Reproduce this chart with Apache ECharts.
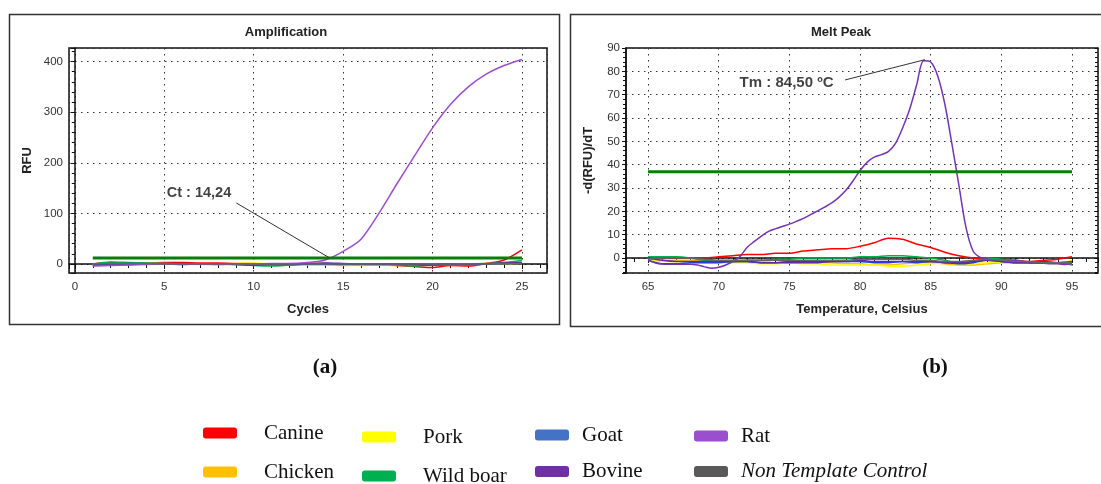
<!DOCTYPE html>
<html>
<head>
<meta charset="utf-8">
<script src="https://cdn.jsdelivr.net/npm/echarts@6/dist/echarts.min.js"></script>
<style>
  html, body { margin: 0; padding: 0; background: #fff; }
  #chart { width: 1101px; height: 484px; }
</style>
</head>
<body>
<div id="chart"></div>
<script>
// amplification: RFU per cycle
const cycles = [1, 2, 3, 4, 5, 6, 7, 8, 9, 10, 11, 12, 13, 14, 15, 16, 17, 18, 19, 20, 21, 22, 23, 24, 25];
const ampCanine = [0, 3, 2, 2, 3, 3, 2, 2, 1, 1, -1, -2, 0, 1, 0, -1, -1, -3, -5, -7, -3, -4, 1, 8, 28];
const ampChicken = [-2, -1, -1, 0, 0, 0, -1, -1, -1, 0, -1, -2, -2, -2, -3, -2, -2, -3, -2, -2, -1, -1, 0, 1, 1];
const ampPork = [-1, 0, 0, 1, 1, 0, 0, 0, 1, 2, 0, 0, 1, 1, -1, -3, -2, -2, -1, -1, -2, 0, 1, 1, 2];
const ampGoat = [-1, 0, 1, 0, 0, -1, 0, 0, -1, -2, -1, -1, 0, 0, -1, -1, -1, 0, -1, -2, -1, -1, 0, 1, 2];
const ampWildBoar = [0, 4, 3, 2, 1, 0, 0, 0, -1, -3, -4, -2, 0, 1, 0, -1, -1, -2, -4, -2, -2, -2, 0, 3, 7];
const ampBovine = [-3, -2, -1, 0, 1, 1, 0, 0, 0, -1, -1, 0, 1, 2, 1, 0, 0, -1, -1, -1, -1, 0, 1, 2, 3];
const ampNtc = [0, 1, 1, 1, 0, 0, 0, 0, 0, 0, 0, 0, 0, 0, 0, 0, 0, 0, 0, 0, 0, 0, 0, 1, 1];
const ampRat = [-4, -3, -2, -1, 0, 0, 0, -1, 0, 0, 1, 1, 3, 8, 25, 49, 100, 158, 214, 269, 315, 350, 375, 392, 404];
const ampThreshold = [[1, 12], [25, 12]];
const ctText = 'Ct : 14,24';
const ctLabelAt = [6.94, 140];
const ctPointer = [[9.03, 120.5], [14.24, 12]];

// melt peak: -d(RFU)/dT per temperature
const meltTemps = [65, 66, 67, 68, 69, 70, 71, 72, 73, 74, 75, 76, 77, 78, 79, 80, 81, 82, 83, 84, 85, 86, 87, 88, 89, 90, 91, 92, 93, 94, 95];
const meltCanine = [0, 0, 0, 0, 0, 0.5, 1, 1.5, 1.5, 2, 2, 3, 3.5, 4, 4, 5, 6.5, 8.5, 8, 6, 4.5, 2.5, 1, 0, -0.5, -1, -1, -1.5, -1, -0.5, 0.5];
const meltChicken = [-0.5, -1, -1, -1, -1, -1.5, -1.5, -1.5, -1.5, -2, -2, -2, -2, -2, -2.5, -2.5, -3, -3, -2.5, -2, -2, -2.5, -3, -3, -2.5, -2, -2, -2, -2, -2, -1.5];
const meltPork = [-1, -1.5, -1.5, -1.5, -2, -2, -2, -2, -2.5, -2.5, -2, -2.5, -2.5, -3, -3, -3, -3, -3.5, -3.5, -3, -2.5, -2, -2.5, -2.5, -2, -1.5, -2, -2, -2, -2.5, -1];
const meltGoat = [-1, -2.5, -2.5, -2, -2, -2, -1.5, -1.5, -2, -2, -1.5, -1.5, -1.5, -1.5, -1.5, -1.5, -2, -2, -1.5, -2, -1.5, -2, -2.5, -2, -1, -1.5, -2, -2, -1.5, -2, -2];
const meltWildBoar = [0.5, 0.5, 0.5, 0, -1, -1.5, -1.5, -1, -1, -0.5, -0.5, 0, 0, 0, 0, 0.5, 0.5, 1, 1, 0.5, 0, -1, -2, -1.5, 0, -0.5, -1, -2, -2, -2, -3];
const meltBovine = [0, -1, -1.5, -1.5, -1.5, -1.5, -1.5, -1.5, -2, -2, -2, -2, -2, -1.5, -1.5, -1, -1.5, -1.5, -1.5, -1.5, -1.5, -2, -2, -1.5, -1, -1.5, -2, -2, -2, -2, -1.5];
const meltNtc = [-0.5, 0, 0, 0, -0.5, -1, -1, -1, -1, -1, -1, -1, -1, -1, -1, -0.5, -0.5, -0.5, -0.5, -1, -1, -1.5, -1.5, -1, -0.5, -1, -1.5, -1.5, -2, -2, -2];
const ratTemps = [65, 65.5, 66, 66.5, 67, 67.5, 68, 68.5, 69, 69.5, 70, 70.5, 71, 71.5, 72, 72.5, 73, 73.5, 74, 74.5, 75, 75.5, 76, 76.5, 77, 77.5, 78, 78.5, 79, 79.5, 80,
  80.5, 81, 81.5, 82, 82.5, 83, 83.5, 84, 84.5, 85, 85.5, 86, 86.5, 87, 87.5, 88, 88.5, 89, 89.5, 90, 90.5, 91, 91.5, 92, 92.5, 93, 93.5, 94, 94.5, 95];
const meltRat = [-1, -2, -2.6, -2.7, -2.7, -2.7, -2.7, -3, -3.8, -4.4, -4, -3, -1.5, 0.6, 4.5, 7, 9.3, 11.3, 12.5, 13.5, 14.5, 15.7, 17, 18.6, 20.2, 21.8, 23.6, 26, 29, 33, 37.5,
  41, 43.2, 44.3, 45.6, 49, 55.5, 63.5, 74, 84.5, 84, 78, 66, 49, 31, 13, 3, 0.3, -0.5, -0.8, -1, -1, -1.2, -1.5, -2, -2.2, -2.3, -2.5, -2.5, -2.8, -2.5];
const meltThreshold = [[65, 37], [95, 37]];
const tmText = 'Tm : 84,50 ºC';
const tmLabelAt = [74.8, 75];
const tmPointer = [[78.94, 76.3], [84.6, 85]];

const species = ['Canine', 'Chicken', 'Pork', 'Wild boar', 'Goat', 'Bovine', 'Rat', 'Non Template Control'];
const colors = {
  'Canine': '#ff0000', 'Chicken': '#ffc000', 'Pork': '#ffff00', 'Wild boar': '#00b050',
  'Goat': '#4472c4', 'Bovine': '#7030a0', 'Rat': '#9a4fcf', 'Non Template Control': '#595959'
};
const ampData = {
  'Canine': ampCanine, 'Chicken': ampChicken, 'Pork': ampPork, 'Wild boar': ampWildBoar,
  'Goat': ampGoat, 'Bovine': ampBovine, 'Rat': ampRat, 'Non Template Control': ampNtc
};
const meltData = {
  'Canine': meltCanine, 'Chicken': meltChicken, 'Pork': meltPork, 'Wild boar': meltWildBoar,
  'Goat': meltGoat, 'Bovine': meltBovine, 'Non Template Control': meltNtc
};
// line colours on the instrument plots differ a bit from the legend swatches
const lineColors = { 'Goat': '#1f3fe0', 'Bovine': '#5a2aa8', 'Non Template Control': '#666' };

const chart = echarts.init(document.getElementById('chart'));
const axisFont = { fontFamily: 'Liberation Sans', fontSize: 11.5, color: '#333' };
const nameFont = { fontFamily: 'Liberation Sans', fontSize: 13, fontWeight: 'bold', color: '#222' };
const dotted = { color: '#333', width: 1, type: [1.5, 4.5] };
const tickLine = { color: '#111' };

function xAxisOf(grid, min, max, split, minor, name) {
  return {
    type: 'value', gridIndex: grid, min: min, max: max, splitNumber: split,
    name: name, nameLocation: 'middle', nameGap: 30, nameTextStyle: nameFont,
    axisLine: { lineStyle: { color: '#111', width: 1.5 } },
    axisTick: { length: 5, lineStyle: tickLine },
    minorTick: { show: true, splitNumber: minor, length: 4, lineStyle: tickLine },
    axisLabel: { ...axisFont, margin: 8, formatter: v => (Math.abs(v - Math.round(v)) < 1e-6 && Math.round(v) % 5 === 0 ? v : '') },
    splitLine: { show: true, lineStyle: dotted }
  };
}
function yAxisOf(grid, min, max, split, minor, name, gap, step) {
  return {
    type: 'value', gridIndex: grid, min: min, max: max, splitNumber: split,
    name: name, nameLocation: 'middle', nameGap: gap, nameTextStyle: nameFont,
    axisLine: { show: true, lineStyle: { color: '#111', width: 1.5 } },
    axisTick: { show: true, length: 4, lineStyle: tickLine },
    minorTick: { show: true, splitNumber: minor, length: 3, lineStyle: tickLine },
    axisLabel: { ...axisFont, margin: 6, formatter: v => (Math.abs(v - Math.round(v)) < 1e-6 && Math.round(v) % step === 0 ? v : '') },
    splitLine: { show: true, lineStyle: dotted }
  };
}
// tick marks on the top / right edges of each frame
function mirrorAxis(grid, pos, min, max, split, minor) {
  return {
    type: 'value', gridIndex: grid, position: pos, min: min, max: max, splitNumber: split,
    axisLine: { show: false }, axisLabel: { show: false }, splitLine: { show: false },
    axisTick: { show: true, inside: true, length: 3, lineStyle: tickLine },
    minorTick: { show: true, splitNumber: minor, length: 3, lineStyle: tickLine }
  };
}

const series = [];
species.forEach(s => {
  series.push({
    name: s, type: 'line', xAxisIndex: 0, yAxisIndex: 0, symbol: 'none', smooth: 0.3,
    itemStyle: { color: colors[s] },
    lineStyle: { width: 1.5, color: lineColors[s] || colors[s] },
    data: cycles.map((c, i) => [c, ampData[s][i]])
  });
});
species.forEach(s => {
  const d = s === 'Rat' ? ratTemps.map((t, i) => [t, meltRat[i]]) : meltTemps.map((t, i) => [t, meltData[s][i]]);
  series.push({
    name: s, type: 'line', xAxisIndex: 1, yAxisIndex: 1, symbol: 'none', smooth: 0.3,
    itemStyle: { color: colors[s] },
    lineStyle: { width: 1.5, color: s === 'Rat' ? '#7434b4' : (lineColors[s] || colors[s]) },
    data: d
  });
});
series.push(
  { name: 'ampThreshold', type: 'line', xAxisIndex: 0, yAxisIndex: 0, symbol: 'none', z: 3,
    lineStyle: { color: '#0b7d0b', width: 3 }, data: ampThreshold },
  { name: 'meltThreshold', type: 'line', xAxisIndex: 1, yAxisIndex: 1, symbol: 'none', z: 3,
    lineStyle: { color: '#0b7d0b', width: 3 }, data: meltThreshold },
  { name: 'ctPointer', type: 'line', xAxisIndex: 0, yAxisIndex: 0, symbol: 'none', z: 4,
    lineStyle: { color: '#333', width: 1 }, data: ctPointer },
  { name: 'tmPointer', type: 'line', xAxisIndex: 1, yAxisIndex: 1, symbol: 'none', z: 4,
    lineStyle: { color: '#333', width: 1 }, data: tmPointer },
  { name: 'ctLabel', type: 'scatter', xAxisIndex: 0, yAxisIndex: 0, symbolSize: 0, z: 5,
    label: { show: true, position: 'inside', formatter: ctText, fontFamily: 'Liberation Sans', fontWeight: 'bold', fontSize: 14.5, color: '#111' },
    data: [ctLabelAt] },
  { name: 'tmLabel', type: 'scatter', xAxisIndex: 1, yAxisIndex: 1, symbolSize: 0, z: 5,
    label: { show: true, position: 'inside', formatter: tmText, fontFamily: 'Liberation Sans', fontWeight: 'bold', fontSize: 15, color: '#111' },
    data: [tmLabelAt] }
);

// one legend per entry so the two-row grid lines up like the figure
function legendOf(name, left, centerY, pad) {
  return {
    left: left, top: centerY - 12, orient: 'horizontal', padding: 0,
    itemWidth: 34, itemHeight: 11, icon: 'roundRect', selectedMode: false,
    itemStyle: { borderWidth: 0 },
    data: [name],
    formatter: n => (n === 'Non Template Control' ? '{i|' + n + '}' : n),
    textStyle: {
      fontFamily: 'Liberation Serif', fontSize: 21, color: '#111', lineHeight: 24, padding: [0, 0, 0, pad],
      rich: { i: { fontFamily: 'Liberation Serif', fontStyle: 'italic', fontSize: 21, color: '#111', lineHeight: 24 } }
    }
  };
}

chart.setOption({
  animation: false,
  backgroundColor: '#fff',
  grid: [
    { left: 69, top: 48, width: 478, height: 225, show: true, borderColor: '#111', borderWidth: 1.5, containLabel: false },
    { left: 626, top: 48, width: 472, height: 225, show: true, borderColor: '#111', borderWidth: 1.5, containLabel: false }
  ],
  xAxis: [
    xAxisOf(0, -0.33, 26.4, 5, 5, 'Cycles'),
    xAxisOf(1, 63.44, 96.84, 6, 5, 'Temperature, Celsius'),
    mirrorAxis(0, 'top', -0.33, 26.4, 5, 5),
    mirrorAxis(1, 'top', 63.44, 96.84, 6, 5)
  ],
  yAxis: [
    yAxisOf(0, -17.8, 426.7, 5, 5, 'RFU', 35, 100),
    yAxisOf(1, -6.43, 90, 10, 5, '-d(RFU)/dT', 31, 10),
    mirrorAxis(0, 'right', -17.8, 426.7, 5, 5),
    mirrorAxis(1, 'right', -6.43, 90, 10, 5)
  ],
  legend: [
    legendOf('Canine', 203, 433, 22),
    legendOf('Chicken', 203, 472, 22),
    legendOf('Pork', 362, 437, 22),
    legendOf('Wild boar', 362, 476, 22),
    legendOf('Goat', 535, 435, 8),
    legendOf('Bovine', 535, 471.5, 8),
    legendOf('Rat', 694, 436, 8),
    legendOf('Non Template Control', 694, 471.5, 8)
  ],
  graphic: [
    { type: 'rect', shape: { x: 9.5, y: 14.5, width: 550, height: 310 }, style: { fill: 'none', stroke: '#333', lineWidth: 1.5 }, silent: true },
    { type: 'rect', shape: { x: 570.5, y: 14.5, width: 545, height: 312 }, style: { fill: 'none', stroke: '#333', lineWidth: 1.5 }, silent: true },
    { type: 'text', x: 286, y: 32, style: { text: 'Amplification', fontFamily: 'Liberation Sans', fontSize: 13, fontWeight: 'bold', fill: '#222', textAlign: 'center', textVerticalAlign: 'middle' } },
    { type: 'text', x: 841, y: 32, style: { text: 'Melt Peak', fontFamily: 'Liberation Sans', fontSize: 13, fontWeight: 'bold', fill: '#222', textAlign: 'center', textVerticalAlign: 'middle' } },
    { type: 'text', x: 325, y: 368, style: { text: '(a)', fontFamily: 'Liberation Serif', fontSize: 21, fontWeight: 'bold', fill: '#111', textAlign: 'center', textVerticalAlign: 'middle' } },
    { type: 'text', x: 935, y: 368, style: { text: '(b)', fontFamily: 'Liberation Serif', fontSize: 21, fontWeight: 'bold', fill: '#111', textAlign: 'center', textVerticalAlign: 'middle' } }
  ],
  series: series
});
</script>
</body>
</html>
